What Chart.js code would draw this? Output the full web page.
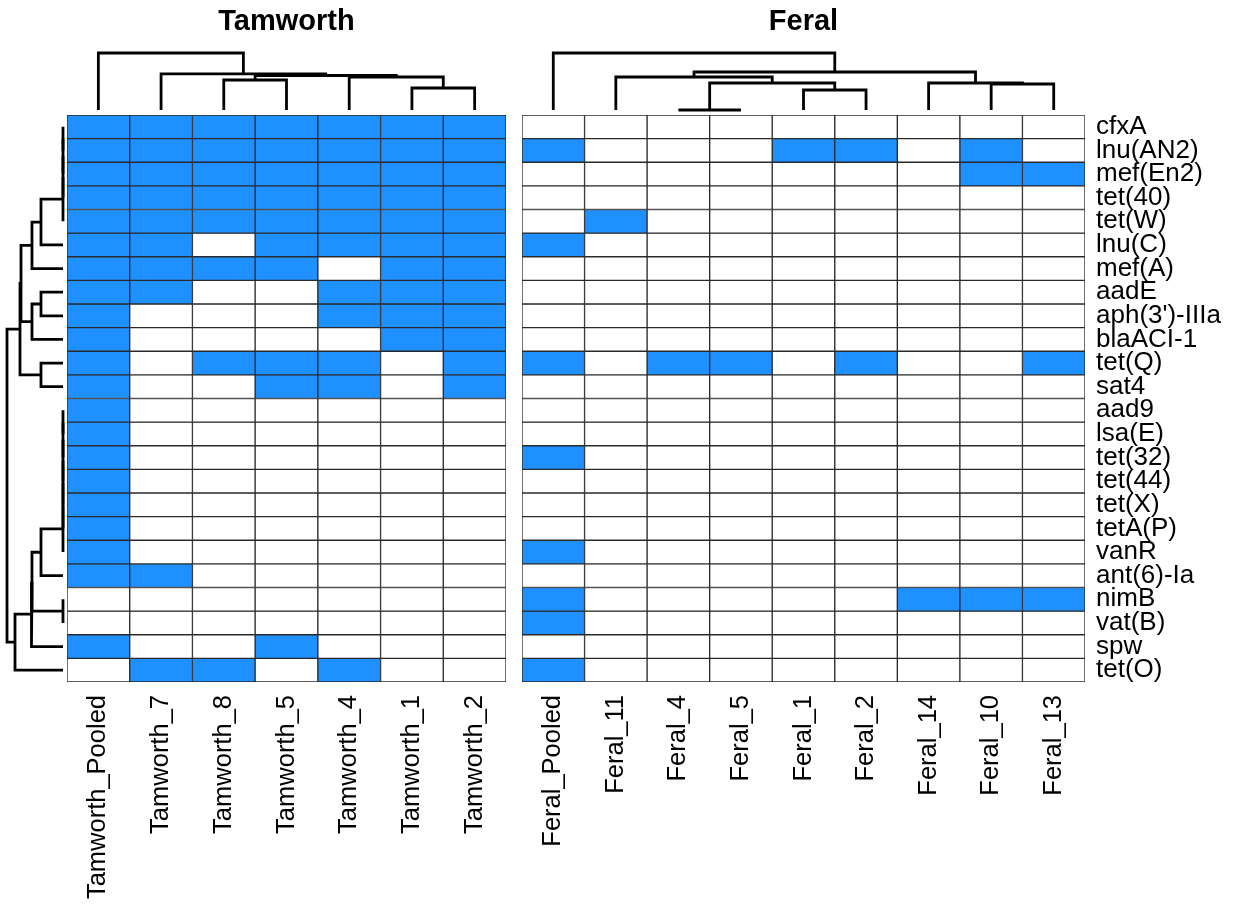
<!DOCTYPE html>
<html>
<head>
<meta charset="utf-8">
<title>Resistance gene presence: Tamworth and Feral</title>
<script src="https://cdn.jsdelivr.net/npm/chart.js@4/dist/chart.umd.min.js"></script>
<style>
  html, body { margin: 0; padding: 0; background: #fff; }
  #stage { position: relative; width: 1233px; height: 907px; overflow: hidden; background: #fff; }
  #stage canvas { position: absolute; }
</style>
</head>
<body>
<div id="stage"></div>
<script>
// ---- Data -------------------------------------------------------------
const genes = [
  'cfxA', 'lnu(AN2)', 'mef(En2)', 'tet(40)', 'tet(W)', 'lnu(C)', 'mef(A)', 'aadE',
  "aph(3')-IIIa", 'blaACI-1', 'tet(Q)', 'sat4', 'aad9', 'lsa(E)', 'tet(32)', 'tet(44)',
  'tet(X)', 'tetA(P)', 'vanR', 'ant(6)-Ia', 'nimB', 'vat(B)', 'spw', 'tet(O)'
];

const tamworthSamples = ['Tamworth_Pooled', 'Tamworth_7', 'Tamworth_8', 'Tamworth_5',
  'Tamworth_4', 'Tamworth_1', 'Tamworth_2'];

const feralSamples = ['Feral_Pooled', 'Feral_11', 'Feral_4', 'Feral_5', 'Feral_1',
  'Feral_2', 'Feral_14', 'Feral_10', 'Feral_13'];

// presence (1) / absence (0), one row per gene, columns in sample order
const tamworthPresence = [
  [1,1,1,1,1,1,1], [1,1,1,1,1,1,1], [1,1,1,1,1,1,1], [1,1,1,1,1,1,1],
  [1,1,1,1,1,1,1], [1,1,0,1,1,1,1], [1,1,1,1,0,1,1], [1,1,0,0,1,1,1],
  [1,0,0,0,1,1,1], [1,0,0,0,0,1,1], [1,0,1,1,1,0,1], [1,0,0,1,1,0,1],
  [1,0,0,0,0,0,0], [1,0,0,0,0,0,0], [1,0,0,0,0,0,0], [1,0,0,0,0,0,0],
  [1,0,0,0,0,0,0], [1,0,0,0,0,0,0], [1,0,0,0,0,0,0], [1,1,0,0,0,0,0],
  [0,0,0,0,0,0,0], [0,0,0,0,0,0,0], [1,0,0,1,0,0,0], [0,1,1,0,1,0,0]
];

const feralPresence = [
  [0,0,0,0,0,0,0,0,0], [1,0,0,0,1,1,0,1,0], [0,0,0,0,0,0,0,1,1], [0,0,0,0,0,0,0,0,0],
  [0,1,0,0,0,0,0,0,0], [1,0,0,0,0,0,0,0,0], [0,0,0,0,0,0,0,0,0], [0,0,0,0,0,0,0,0,0],
  [0,0,0,0,0,0,0,0,0], [0,0,0,0,0,0,0,0,0], [1,0,1,1,0,1,0,0,1], [0,0,0,0,0,0,0,0,0],
  [0,0,0,0,0,0,0,0,0], [0,0,0,0,0,0,0,0,0], [1,0,0,0,0,0,0,0,0], [0,0,0,0,0,0,0,0,0],
  [0,0,0,0,0,0,0,0,0], [0,0,0,0,0,0,0,0,0], [1,0,0,0,0,0,0,0,0], [0,0,0,0,0,0,0,0,0],
  [1,0,0,0,0,0,1,1,1], [1,0,0,0,0,0,0,0,0], [0,0,0,0,0,0,0,0,0], [1,0,0,0,0,0,0,0,0]
];

// hierarchical clustering merges (hclust convention: -k = leaf k, +k = merge k)
const tamworthMerges  = [[-3,-4], [-6,-7], [-5,2], [1,3], [-2,4], [-1,5]];
const tamworthHeights = [0.526, 0.386, 0.579, 0.605, 0.632, 1.0];

const feralMerges  = [[-3,-4], [-5,-6], [1,2], [-2,3], [-8,-9], [-7,5], [4,6], [-1,7]];
const feralHeights = [0.0, 0.351, 0.474, 0.579, 0.456, 0.474, 0.667, 1.0];

const geneMerges = [
  [-1,-2], [1,-3], [2,-4], [3,-5], [-13,-14], [5,-15], [6,-16], [7,-17], [8,-18], [9,-19],
  [-21,-22], [4,-6], [12,-7], [-8,-9], [14,-10], [-11,-12], [13,15], [17,16], [10,-20],
  [19,11], [20,-23], [21,-24], [18,22]
];
const geneHeights = [
  0, 0, 0, 0, 0, 0, 0, 0, 0, 0,
  0, 0.393, 0.554, 0.393, 0.554, 0.393, 0.75, 0.768, 0.393,
  0.554, 0.563, 0.857, 1.0
];

// ---- Styling ----------------------------------------------------------
const PRESENT = '#1E90FF';
const ABSENT = '#FFFFFF';
Chart.defaults.font.family = "'Liberation Sans', Arial, Helvetica, sans-serif";
Chart.defaults.color = '#000';

const stage = document.getElementById('stage');
function makeCanvas(left, top, w, h) {
  const c = document.createElement('canvas');
  c.width = w; c.height = h;
  c.style.left = left + 'px'; c.style.top = top + 'px';
  c.style.width = w + 'px'; c.style.height = h + 'px';
  stage.appendChild(c);
  return c;
}

const baseOptions = {
  responsive: false,
  animation: false,
  events: [],
  layout: { padding: 0 },
  plugins: { legend: { display: false }, tooltip: { enabled: false } }
};

// Turn merge list into U-shaped link polylines: [[pos, height], ...]
function dendroLinks(merges, heights) {
  const pos = [];
  const node = ref => ref < 0 ? { p: -ref - 1, h: 0 } : { p: pos[ref - 1], h: heights[ref - 1] };
  return merges.map(([a, b], i) => {
    const A = node(a), B = node(b), h = heights[i];
    pos[i] = (A.p + B.p) / 2;
    return [[A.p, A.h], [A.p, h], [B.p, h], [B.p, B.h]];
  });
}

function linkDataset(points) {
  return {
    data: points,
    showLine: true,
    borderColor: '#000',
    backgroundColor: '#000',
    borderWidth: 2.8,
    pointRadius: 0,
    borderJoinStyle: 'miter',
    borderCapStyle: 'butt',
    tension: 0,
    fill: false
  };
}

// Axis sizes are fixed so both panels line up cell for cell
function fixSize(size) {
  return s => {
    if (s.isHorizontal()) s.height = size; else s.width = size;
    s.paddingTop = 0; s.paddingBottom = 0; s.paddingLeft = 0; s.paddingRight = 0;
  };
}

// Column dendrogram above a panel, with the panel title
function columnDendrogram(left, width, title, nCols, merges, heights) {
  const links = dendroLinks(merges, heights);
  new Chart(makeCanvas(left, 0, width, 112), {
    type: 'scatter',
    data: { datasets: links.map(l => linkDataset(l.map(([p, h]) => ({ x: p, y: h })))) },
    options: {
      ...baseOptions,
      plugins: {
        ...baseOptions.plugins,
        title: {
          display: true, text: title, color: '#000',
          font: { size: 29, weight: 'bold', lineHeight: 1.2 },
          padding: { top: 5, bottom: 5.2 }
        }
      },
      scales: {
        x: { type: 'linear', display: false, min: -0.5, max: nCols - 0.5 },
        y: { type: 'linear', display: false, min: -0.0351, max: 1.1403 }
      }
    }
  });
}

// Heatmap panel built from stacked unit bars, one dataset per gene row
function heatmap(left, width, samples, presence, withRowLabels) {
  const datasets = genes.map((g, r) => ({
    label: g,
    data: samples.map(() => 1),
    backgroundColor: presence[r].map(v => v ? PRESENT : ABSENT),
    borderColor: '#2a2a2a',
    borderWidth: 1,
    borderSkipped: false,
    barPercentage: 1,
    categoryPercentage: 1
  }));
  const scales = {
    x: {
      type: 'category', stacked: true, offset: true,
      grid: { display: false, drawTicks: false }, border: { display: false },
      ticks: {
        autoSkip: false, minRotation: 90, maxRotation: 90, padding: 13,
        color: '#000', font: { size: 25.5 }
      },
      afterFit: fixSize(225)
    },
    y: { type: 'linear', stacked: true, reverse: true, min: 0, max: genes.length, display: false }
  };
  if (withRowLabels) {
    scales.genesAxis = {
      type: 'category', position: 'right', labels: genes, offset: true,
      grid: { display: false, drawTicks: false }, border: { display: false },
      ticks: { autoSkip: false, padding: 11, color: '#000', font: { size: 26 } },
      afterFit: fixSize(148)
    };
  }
  new Chart(makeCanvas(left, 115, width, 792), {
    type: 'bar',
    data: { labels: samples, datasets },
    options: { ...baseOptions, scales }
  });
}

// Row dendrogram at the left edge
function rowDendrogram() {
  const links = dendroLinks(geneMerges, geneHeights);
  new Chart(makeCanvas(0, 115, 67, 567), {
    type: 'scatter',
    data: { datasets: links.map(l => linkDataset(l.map(([p, h]) => ({ x: h, y: p })))) },
    options: {
      ...baseOptions,
      scales: {
        x: { type: 'linear', display: false, reverse: true, min: -0.0714, max: 1.125 },
        y: { type: 'linear', display: false, reverse: true, min: -0.5, max: genes.length - 0.5 }
      }
    }
  });
}

columnDendrogram(67, 439, 'Tamworth', tamworthSamples.length, tamworthMerges, tamworthHeights);
columnDendrogram(522, 563, 'Feral', feralSamples.length, feralMerges, feralHeights);
heatmap(67, 439, tamworthSamples, tamworthPresence, false);
heatmap(522, 711, feralSamples, feralPresence, true);
rowDendrogram();
</script>
</body>
</html>
